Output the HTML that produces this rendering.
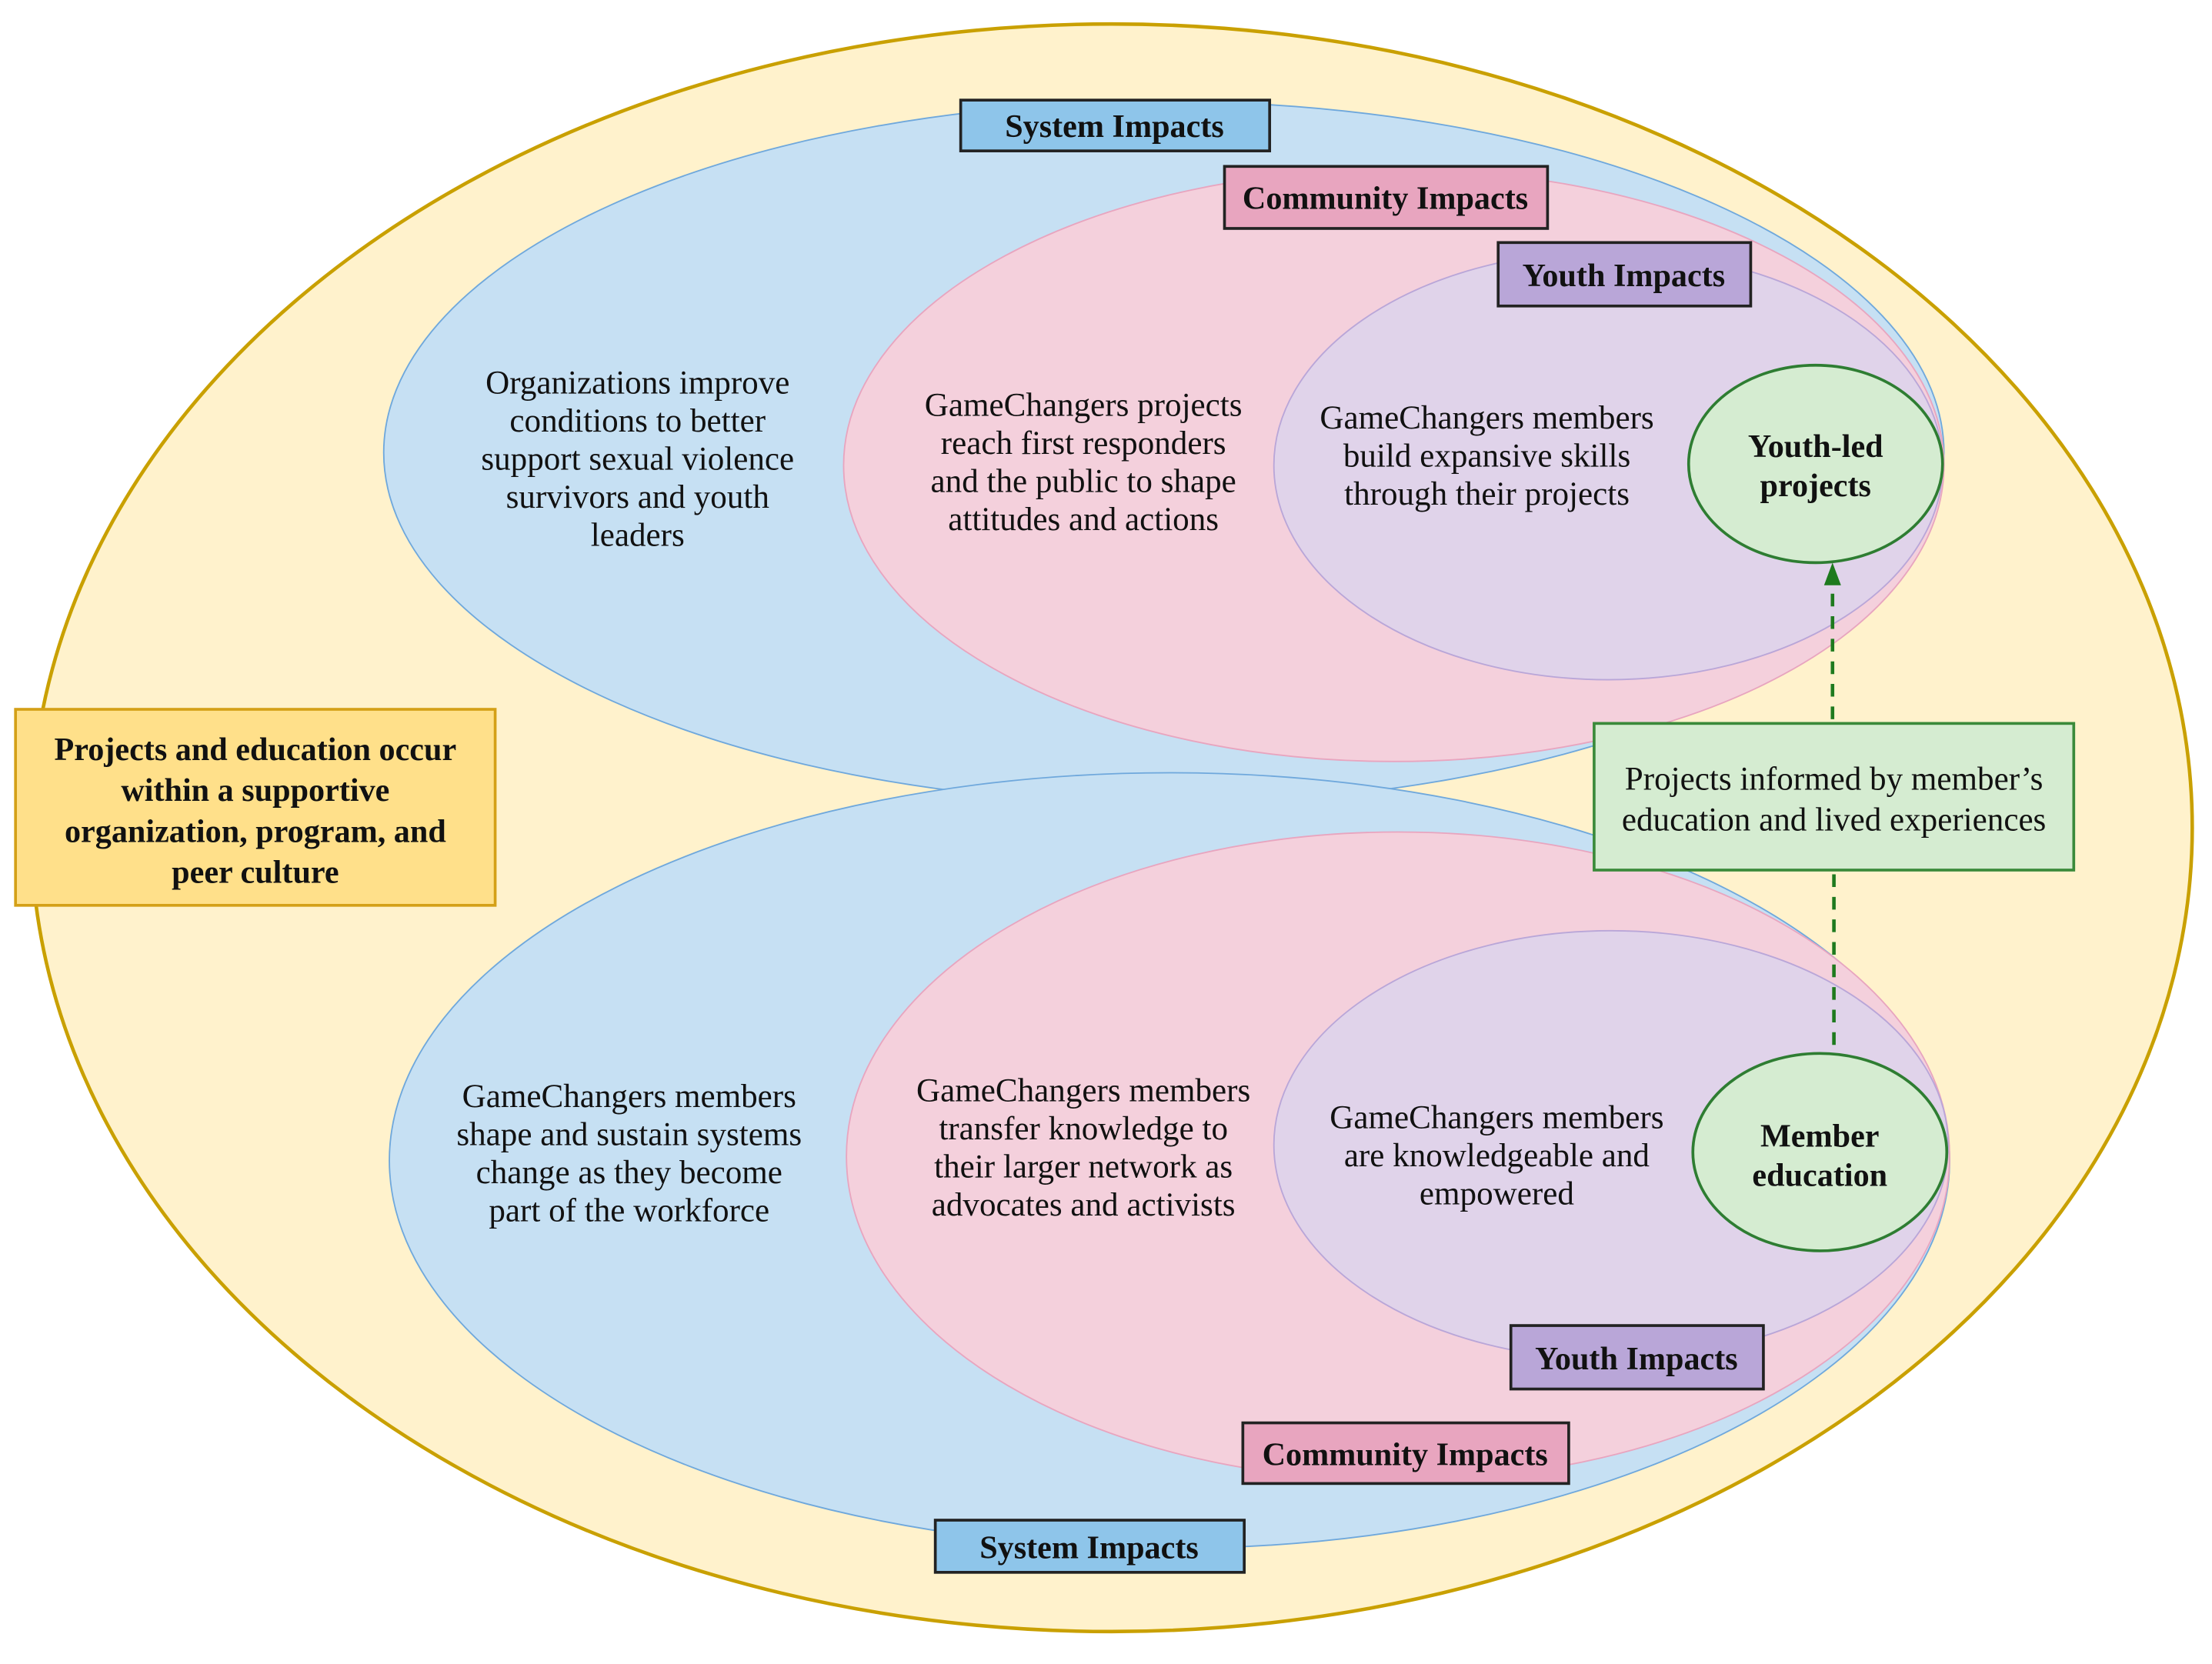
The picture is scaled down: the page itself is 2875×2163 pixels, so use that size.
<!DOCTYPE html>
<html><head><meta charset="utf-8"><style>
html,body{margin:0;padding:0;background:#fff;}
svg{display:block;}
text{font-family:"Liberation Serif",serif;fill:#111;}
.t{font-size:23.5px;text-anchor:middle;}
.b{font-size:23px;font-weight:bold;text-anchor:middle;}
</style></head><body>
<svg width="2875" height="2163" viewBox="0 0 1568 1180" preserveAspectRatio="none" xmlns="http://www.w3.org/2000/svg">
<ellipse cx="788" cy="587" rx="766" ry="570" fill="#fff2cc" stroke="#c9a000" stroke-width="2.5"/>
<ellipse cx="825" cy="321" rx="553" ry="249" fill="#c6e0f3" stroke="#6fa8dc" stroke-width="1"/>
<ellipse cx="988" cy="330" rx="390" ry="210" fill="#f4d0dc" stroke="#e8a5bf" stroke-width="1"/>
<ellipse cx="1140" cy="330" rx="237" ry="152" fill="#e0d3ea" stroke="#b9a6d8" stroke-width="1"/>
<ellipse cx="1287" cy="329" rx="90" ry="70" fill="#d5ecd1" stroke="#2e7d32" stroke-width="2"/>
<ellipse cx="829" cy="823" rx="553" ry="275" fill="#c6e0f3" stroke="#6fa8dc" stroke-width="1"/>
<ellipse cx="991" cy="820" rx="391" ry="230" fill="#f4d0dc" stroke="#e8a5bf" stroke-width="1"/>
<ellipse cx="1142" cy="812" rx="239" ry="152" fill="#e0d3ea" stroke="#b9a6d8" stroke-width="1"/>
<ellipse cx="1290" cy="817" rx="90" ry="70" fill="#d5ecd1" stroke="#2e7d32" stroke-width="2"/>

<line x1="1299" y1="510" x2="1299" y2="414" stroke="#1e7a1e" stroke-width="2.5" stroke-dasharray="9,7"/>
<polygon points="1299,399 1293,415 1305,415" fill="#1e7a1e"/>
<line x1="1300" y1="620" x2="1300" y2="748" stroke="#1e7a1e" stroke-width="2.5" stroke-dasharray="9,7"/>

<rect x="681" y="71" width="219" height="36" fill="#8ec5ea" stroke="#222" stroke-width="2"/>
<text class="b" x="790" y="97">System Impacts</text>
<rect x="868" y="118" width="229" height="44" fill="#e8a5bf" stroke="#222" stroke-width="2"/>
<text class="b" x="982" y="148">Community Impacts</text>
<rect x="1062" y="172" width="179" height="45" fill="#b9a6d8" stroke="#222" stroke-width="2"/>
<text class="b" x="1151" y="203">Youth Impacts</text>
<rect x="1071" y="940" width="179" height="45" fill="#b9a6d8" stroke="#222" stroke-width="2"/>
<text class="b" x="1160" y="971">Youth Impacts</text>
<rect x="881" y="1009" width="231" height="43" fill="#e8a5bf" stroke="#222" stroke-width="2"/>
<text class="b" x="996" y="1039">Community Impacts</text>
<rect x="663" y="1078" width="219" height="37" fill="#8ec5ea" stroke="#222" stroke-width="2"/>
<text class="b" x="772" y="1105">System Impacts</text>

<rect x="11" y="503" width="340" height="139" fill="#ffe08a" stroke="#d4a017" stroke-width="2"/>
<text class="b" x="181" y="539">Projects and education occur</text>
<text class="b" x="181" y="568">within a supportive</text>
<text class="b" x="181" y="597">organization, program, and</text>
<text class="b" x="181" y="626">peer culture</text>

<rect x="1130" y="513" width="340" height="104" fill="#d5ecd1" stroke="#3a8a3a" stroke-width="2"/>
<text class="t" x="1300" y="560">Projects informed by member’s</text>
<text class="t" x="1300" y="589">education and lived experiences</text>

<text class="b" x="1287" y="324">Youth-led</text>
<text class="b" x="1287" y="352">projects</text>
<text class="b" x="1290" y="813">Member</text>
<text class="b" x="1290" y="841">education</text>

<text class="t" x="452" y="279">Organizations improve</text>
<text class="t" x="452" y="306">conditions to better</text>
<text class="t" x="452" y="333">support sexual violence</text>
<text class="t" x="452" y="360">survivors and youth</text>
<text class="t" x="452" y="387">leaders</text>

<text class="t" x="768" y="295">GameChangers projects</text>
<text class="t" x="768" y="322">reach first responders</text>
<text class="t" x="768" y="349">and the public to shape</text>
<text class="t" x="768" y="376">attitudes and actions</text>

<text class="t" x="1054" y="304">GameChangers members</text>
<text class="t" x="1054" y="331">build expansive skills</text>
<text class="t" x="1054" y="358">through their projects</text>

<text class="t" x="446" y="785">GameChangers members</text>
<text class="t" x="446" y="812">shape and sustain systems</text>
<text class="t" x="446" y="839">change as they become</text>
<text class="t" x="446" y="866">part of the workforce</text>

<text class="t" x="768" y="781">GameChangers members</text>
<text class="t" x="768" y="808">transfer knowledge to</text>
<text class="t" x="768" y="835">their larger network as</text>
<text class="t" x="768" y="862">advocates and activists</text>

<text class="t" x="1061" y="800">GameChangers members</text>
<text class="t" x="1061" y="827">are knowledgeable and</text>
<text class="t" x="1061" y="854">empowered</text>
</svg>
</body></html>
